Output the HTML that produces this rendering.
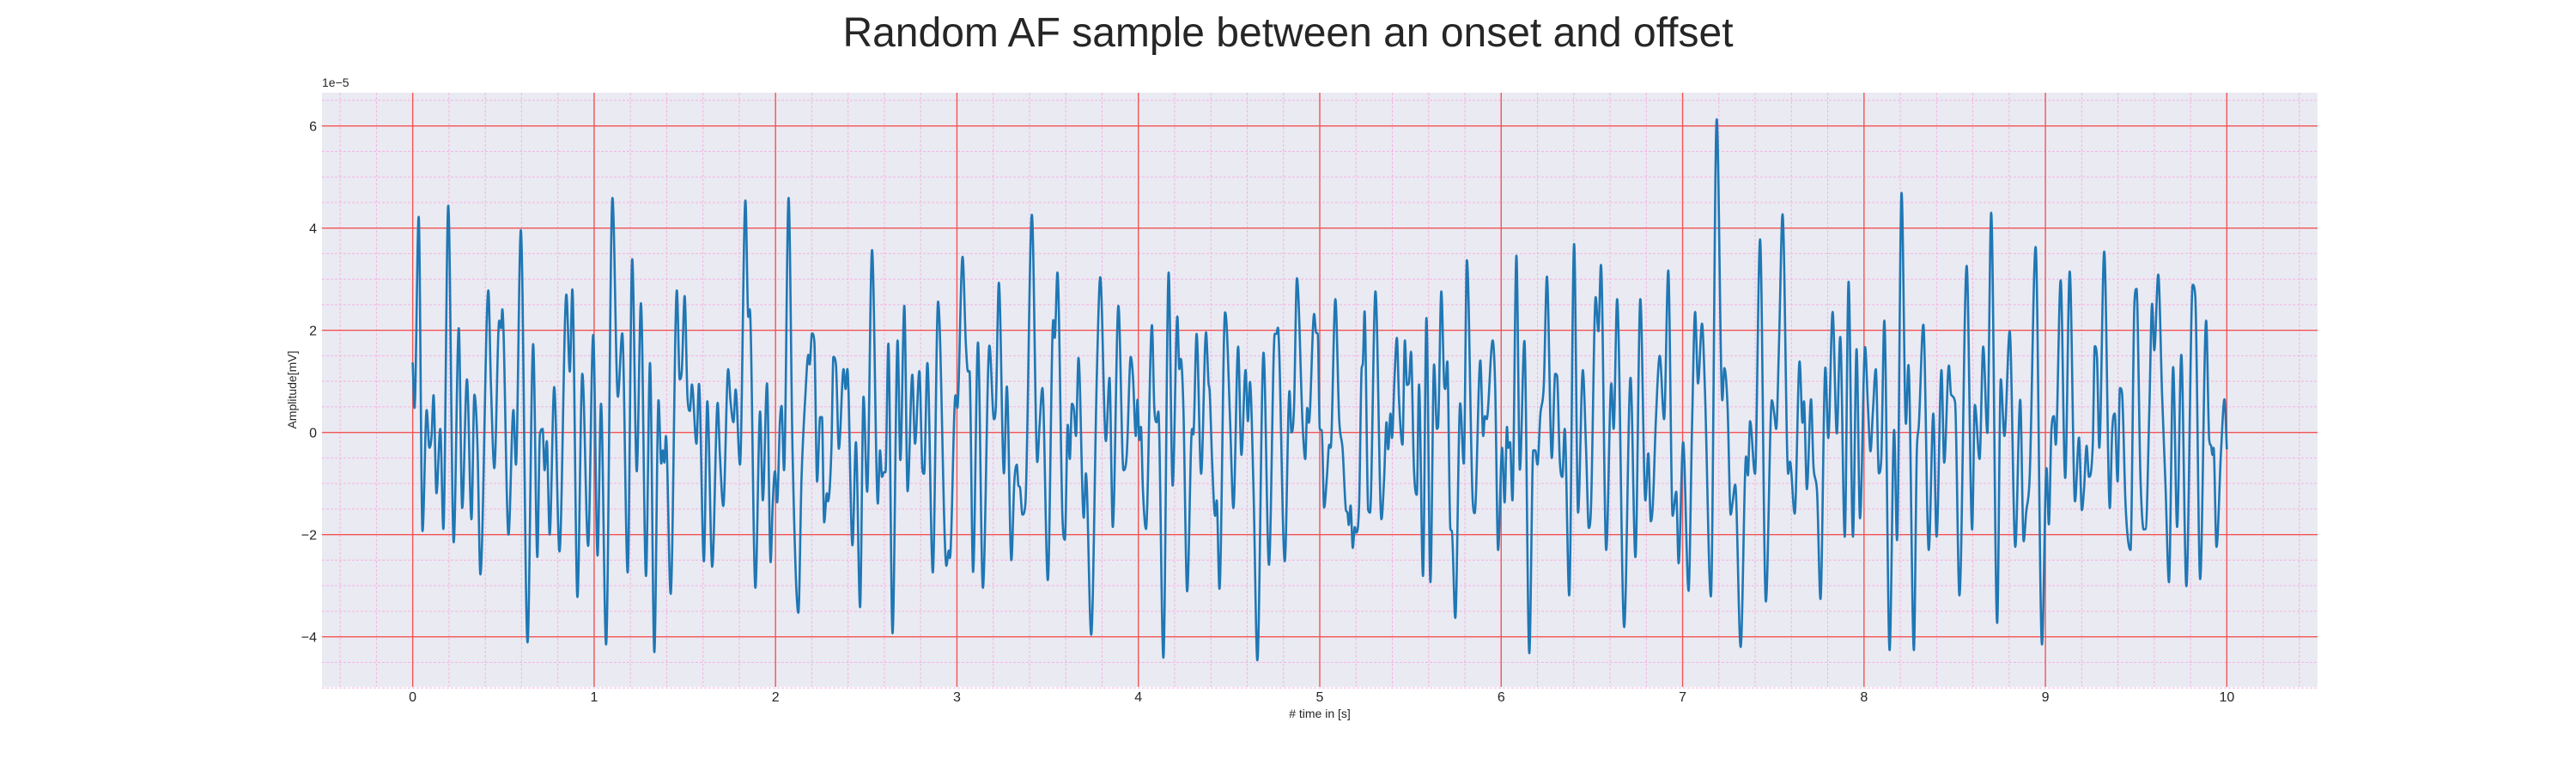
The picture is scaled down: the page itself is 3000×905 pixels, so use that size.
<!DOCTYPE html>
<html><head><meta charset="utf-8">
<style>
html,body{margin:0;padding:0;background:#fff;}
body{width:3000px;height:900px;overflow:hidden;font-family:"Liberation Sans",Arial,sans-serif;}
svg text{font-family:"Liberation Sans",Arial,sans-serif;fill:#262626;}
</style></head>
<body>
<svg id="chart" width="3000" height="900" viewBox="0 0 3000 900" xmlns="http://www.w3.org/2000/svg">
  <text x="1500" y="54" font-size="48" text-anchor="middle">Random AF sample between an onset and offset</text>
  <rect x="375" y="108" width="2324" height="692" fill="#eaeaf2"/>
  <g id="grid"></g>
  <g id="series"></g>
  <g id="ticks"></g>
  <text x="375" y="101" font-size="14">1e−5</text>
  <text x="1537" y="836" font-size="14" text-anchor="middle"># time in [s]</text>
  <text x="340" y="454" font-size="14" text-anchor="middle" transform="rotate(-90 340 454)" dy="5">Amplitude[mV]</text>
</svg>
<script>
const xTicks = [0,1,2,3,4,5,6,7,8,9,10];
const yTicks = [-4,-2,0,2,4,6];
const yTickLabels = ["−4","−2","0","2","4","6"];
const times = [0,0.01,0.033,0.054,0.077,0.092,0.104,0.115,0.131,0.152,0.169,0.196,0.226,0.254,0.273,0.299,0.324,0.340,0.357,0.373,0.417,0.431,0.450,0.477,0.487,0.494,0.528,0.555,0.569,0.596,0.633,0.664,0.687,0.701,0.716,0.727,0.739,0.755,0.780,0.809,0.847,0.866,0.880,0.908,0.935,0.967,0.995,1.019,1.038,1.066,1.101,1.131,1.155,1.185,1.210,1.235,1.258,1.286,1.308,1.332,1.355,1.370,1.379,1.387,1.396,1.422,1.456,1.472,1.483,1.499,1.515,1.528,1.539,1.564,1.578,1.605,1.624,1.651,1.681,1.693,1.712,1.739,1.752,1.768,1.780,1.804,1.834,1.850,1.858,1.889,1.915,1.930,1.953,1.973,
1.984,1.997,2.009,2.024,2.033,2.047,2.072,2.094,2.126,2.143,2.163,2.181,2.188,2.201,2.214,2.229,2.246,2.256,2.268,2.283,2.289,2.308,2.319,2.333,2.349,2.375,2.386,2.396,2.424,2.443,2.466,2.485,2.505,2.532,2.564,2.576,2.587,2.597,2.606,2.622,2.645,2.673,2.688,2.710,2.728,2.754,2.769,2.793,2.810,2.819,2.837,2.867,2.896,2.942,2.955,2.961,2.992,3.002,3.031,3.049,3.061,3.069,3.089,3.116,3.143,3.179,3.204,3.214,3.231,3.259,3.275,3.300,3.316,3.330,3.339,3.347,3.361,3.377,3.413,3.443,3.455,3.471,3.501,3.531,3.539,3.554,3.582,3.595,3.611,3.622,3.634,3.645,3.656,3.670,3.699,3.711,3.740,3.771,3.790,3.821,3.841,3.859,3.890,3.918,3.936,
3.958,3.970,3.986,3.995,4.006,4.014,4.025,4.042,4.075,4.088,4.101,4.110,4.138,4.167,4.189,4.215,4.226,4.234,4.248,4.269,4.296,4.303,4.321,4.346,4.373,4.387,4.393,4.407,4.423,4.432,4.447,4.478,4.487,4.506,4.524,4.550,4.568,4.591,4.604,4.615,4.635,4.656,4.690,4.720,4.752,4.761,4.769,4.807,4.833,4.844,4.858,4.874,4.906,4.920,4.931,4.940,4.969,4.980,4.989,5.000,5.011,5.024,5.039,5.052,5.060,5.086,5.107,5.126,5.145,5.152,5.160,5.170,5.182,5.193,5.201,5.217,5.231,5.237,5.247,5.267,5.277,5.307,5.340,5.354,5.368,5.377,5.390,5.398,5.412,5.425,5.437,5.456,5.469,5.481,5.491,5.503,5.519,5.535,5.547,5.569,5.588,5.610,5.630,5.646,5.652,5.670,5.687,5.692,5.703,5.720,5.728,5.747,5.774,5.794,5.811,5.843,5.854,5.885,5.901,5.910,5.920,
5.953,5.967,5.983,6.005,6.019,6.032,6.039,6.049,6.062,6.084,6.103,6.128,6.155,6.177,6.188,6.200,6.216,6.235,6.252,6.279,6.298,6.308,6.323,6.337,6.350,6.375,6.402,6.424,6.450,6.468,6.483,6.495,6.521,6.536,6.550,6.579,6.607,6.620,6.639,6.678,6.713,6.740,6.767,6.795,6.811,6.825,6.836,6.853,6.874,6.898,6.921,6.945,6.965,6.978,7.003,7.033,7.052,7.069,7.085,7.107,7.123,7.156,7.188,7.219,7.230,7.248,7.265,7.276,7.290,7.320,7.350,7.360,7.372,7.399,7.427,7.459,7.492,7.505,7.516,7.532,7.551,7.582,7.592,7.618,7.645,7.661,7.669,7.685,7.708,7.722,7.741,7.760,7.787,7.803,7.827,7.850,7.869,7.894,7.915,7.939,7.959,
7.978,8.006,8.022,8.036,8.049,8.065,8.082,8.095,8.112,8.141,8.166,8.182,8.207,8.231,8.245,8.275,8.291,8.302,8.327,8.357,8.382,8.400,8.427,8.442,8.468,8.480,8.502,8.526,8.566,8.596,8.611,8.637,8.657,8.680,8.701,8.734,8.754,8.774,8.803,8.834,8.861,8.880,8.894,8.913,8.946,8.981,9.006,9.019,9.033,9.047,9.057,9.084,9.109,9.134,9.163,9.185,9.201,9.213,9.227,9.240,9.261,9.272,9.284,9.297,9.324,9.355,9.368,9.382,9.398,9.411,9.422,9.442,9.469,9.491,9.502,9.524,9.542,9.553,9.573,9.588,9.600,9.622,9.643,9.662,9.681,9.704,9.726,9.749,9.777,9.812,9.826,9.853,9.886,9.903,9.913,9.921,9.927,9.943,9.968,9.987,10.0];
const amplitudes = [1.37,0.48,4.22,-1.93,0.44,-0.30,-0.07,0.73,-1.19,0.07,-1.89,4.44,-2.15,2.04,-1.48,1.04,-1.70,0.74,-0.26,-2.78,2.78,0.96,-0.70,2.19,2.04,2.41,-2.0,0.44,-0.63,3.96,-4.11,1.73,-2.44,-0.04,0.07,-0.74,-0.17,-2.0,0.89,-2.33,2.70,1.19,2.80,-3.22,1.15,-2.22,1.91,-2.41,0.56,-4.15,4.59,0.70,1.94,-2.74,3.39,-0.76,2.53,-2.81,1.36,-4.30,0.63,-0.61,-0.35,-0.59,-0.07,-3.16,2.78,1.04,1.19,2.67,0.67,0.42,0.94,-0.22,0.95,-2.52,0.61,-2.63,0.58,-0.41,-1.44,1.24,0.61,0.20,0.84,-0.63,4.54,2.26,2.41,-3.04,0.41,-1.33,0.96,-2.54,
-1.44,-0.76,-1.37,0.19,0.52,-0.74,4.59,-0.41,-3.53,-0.93,0.63,1.52,1.33,1.94,1.78,-0.96,0.30,0.30,-1.76,-1.19,-1.35,-0.33,1.48,1.33,-0.32,1.24,0.85,1.24,-2.21,-0.19,-3.42,0.70,-1.16,3.57,-1.39,-0.35,-0.87,-0.78,-0.78,1.74,-3.93,1.80,-0.54,2.48,-1.15,1.13,-0.22,1.20,-0.74,-0.81,1.36,-2.74,2.56,-2.61,-2.31,-2.46,0.73,0.48,3.44,1.74,1.19,1.20,-2.73,1.76,-3.04,1.70,0.26,0.48,2.93,-0.80,0.90,-2.50,-0.99,-0.63,-1.04,-1.07,-1.61,-1.41,4.26,-0.58,0.11,0.87,-2.89,2.20,1.85,3.13,-1.70,-2.10,0.15,-0.52,0.56,0.44,-0.07,1.46,-1.67,-0.80,-3.96,1.11,3.04,-0.17,1.07,-1.85,2.48,-0.74,-0.44,
1.48,1.11,-0.07,0.64,-0.15,0.11,-1.11,-1.89,2.10,0.48,0.20,0.41,-4.41,3.13,-1.04,2.27,1.24,1.44,0.52,-3.11,0.07,-0.04,1.93,-0.81,1.96,0.96,0.81,-0.61,-1.63,-1.33,-3.06,2.35,2.07,0.20,-1.48,1.68,-0.44,1.22,0.22,0.99,-1.15,-4.46,1.56,-2.59,1.93,1.93,2.05,-2.52,0.81,0.00,0.48,3.02,0.11,-0.52,0.48,0.19,2.32,1.95,1.93,0.07,0.04,-1.47,-0.89,-0.24,-0.30,2.61,0.26,-0.33,-1.53,-1.56,-1.81,-1.43,-2.26,-1.85,-1.96,-1.41,1.26,1.33,2.37,-1.52,-1.57,2.76,-1.70,-0.96,0.20,-0.33,0.37,-0.11,1.07,1.85,0.63,-0.24,1.80,0.93,0.96,1.58,-0.70,-1.22,0.94,-2.81,2.24,-2.93,1.33,0.07,0.11,2.76,0.89,0.85,1.39,-1.89,-1.93,-3.63,0.57,-0.61,3.37,-1.33,-1.58,1.41,-0.07,0.32,0.26,
1.80,0.89,-2.30,-0.30,-1.37,0.11,-0.30,-0.19,-1.33,3.46,-0.73,1.79,-4.32,-0.35,-0.35,-0.63,0.35,0.93,3.05,-0.50,1.15,1.11,-0.54,-0.87,0.07,-3.19,3.69,-1.57,1.22,-0.33,-1.87,-1.48,2.65,1.98,3.28,-2.30,0.96,0.07,2.61,-3.81,1.07,-2.44,2.61,-1.33,-0.41,-1.74,-1.41,0.27,1.50,0.26,3.17,-1.63,-1.16,-2.56,-0.19,-3.10,0.11,2.36,0.96,2.13,0.85,-3.21,6.13,0.63,1.26,0.50,-1.61,-1.36,-1.02,-4.20,-0.47,-0.84,0.22,-0.81,3.78,-3.31,0.63,0.37,0.07,1.81,4.27,-0.81,-0.57,-1.59,1.39,0.19,0.61,-1.11,0.65,-0.69,-1.15,-3.26,1.27,-0.11,2.36,-0.02,1.87,-2.04,2.95,-2.04,1.63,
-1.68,1.67,0.48,-0.37,0.41,1.24,-0.80,-0.52,2.19,-4.26,0.05,-2.11,4.69,0.17,1.32,-4.26,-0.39,0.13,2.11,-2.30,0.37,-2.04,1.22,-0.59,1.31,0.74,0.59,-3.19,3.26,-1.90,0.54,-0.52,1.68,-0.01,4.30,-3.73,1.04,-0.07,1.98,-2.24,0.64,-2.13,-1.56,-0.89,3.63,-4.15,-0.70,-1.80,0.04,0.32,-0.24,2.98,-0.89,3.15,-1.35,-0.10,-1.52,-1.10,-0.26,-0.87,-0.24,1.69,1.48,-0.30,3.54,-1.48,0.02,0.37,-0.96,0.87,0.78,-1.44,-2.30,2.57,2.81,-0.89,-1.90,-1.89,0.48,2.52,1.61,3.09,0.74,-1.04,-2.93,1.28,-1.85,1.52,-3.01,2.89,2.67,-2.87,2.19,-0.15,-0.26,-0.44,-0.30,-2.24,-0.37,0.65,-0.33];

const NS='http://www.w3.org/2000/svg';
const PL=375, PR=2699, PT=108, PB=800;
const xMin=-0.5, xMax=10.5, yMin=-4.98, yMax=6.65;
function xs(t){return PL+(t-xMin)/(xMax-xMin)*(PR-PL);}
function ys(v){return PB-(v-yMin)/(yMax-yMin)*(PB-PT);}
function mk(tag,attrs,parent){const e=document.createElementNS(NS,tag);for(const k in attrs)e.setAttribute(k,attrs[k]);parent.appendChild(e);return e;}
const grid=document.getElementById('grid'), ticks=document.getElementById('ticks'), series=document.getElementById('series');

for(let i=-2;i<=52;i++){const t=i*0.2; if(i%5===0) continue;
  const l=mk('line',{x1:xs(t),x2:xs(t),y1:PT,y2:PB,stroke:'#f4b4e2','stroke-width':1,'stroke-dasharray':'3,2'},grid);
  
  }
for(let i=-10;i<=13;i++){const v=i*0.5; if(i%4===0) continue;
  const l=mk('line',{x1:PL,x2:PR,y1:ys(v),y2:ys(v),stroke:'#f4b4e2','stroke-width':1,'stroke-dasharray':'3,2'},grid);
  
  }
xTicks.forEach(t=>{
  const l=mk('line',{x1:xs(t),x2:xs(t),y1:PT,y2:PB,stroke:'#f25454','stroke-width':1.4},grid);
  
  
  const tx=mk('text',{x:xs(t),y:817,'font-size':16,'text-anchor':'middle'},ticks);
  tx.textContent=String(t);
  
  
});
yTicks.forEach((v,i)=>{
  const l=mk('line',{x1:PL,x2:PR,y1:ys(v),y2:ys(v),stroke:'#f25454','stroke-width':1.4},grid);
  
  
  const tx=mk('text',{x:369,y:ys(v)+6,'font-size':16,'text-anchor':'end'},ticks);
  tx.textContent=yTickLabels[i];
  
  
});
(function(){
  const n=times.length, X=times.map(xs), Y=amplitudes.map(ys);
  const d=[],m=new Array(n);
  for(let i=0;i<n-1;i++) d.push((Y[i+1]-Y[i])/(X[i+1]-X[i]||1e-6));
  m[0]=d[0]; m[n-1]=d[n-2];
  for(let i=1;i<n-1;i++){ m[i]=(d[i-1]*d[i]<=0)?0:(d[i-1]+d[i])/2; }
  for(let i=0;i<n-1;i++){ if(d[i]===0){m[i]=0;m[i+1]=0;continue;}
    const a=m[i]/d[i], b=m[i+1]/d[i], s=a*a+b*b;
    if(s>9){const tau=3/Math.sqrt(s); m[i]=tau*a*d[i]; m[i+1]=tau*b*d[i];}}
  let p='M'+X[0].toFixed(2)+','+Y[0].toFixed(2);
  for(let i=0;i<n-1;i++){const h=(X[i+1]-X[i])/3;
    p+=' C'+(X[i]+h).toFixed(2)+','+(Y[i]+m[i]*h).toFixed(2)+' '+(X[i+1]-h).toFixed(2)+','+(Y[i+1]-m[i+1]*h).toFixed(2)+' '+X[i+1].toFixed(2)+','+Y[i+1].toFixed(2);}
  const path=mk('path',{d:p,fill:'none',stroke:'#1f77b4','stroke-width':2.6,'stroke-linejoin':'round'},series);
  
  
})();
</script>
</body></html>
